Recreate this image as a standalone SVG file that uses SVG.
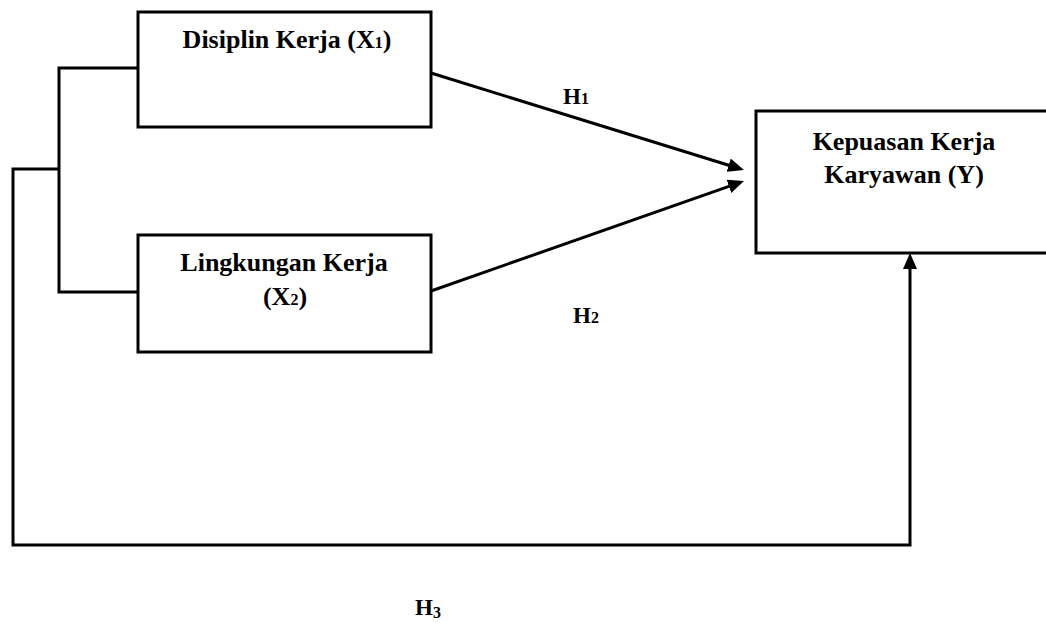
<svg xmlns="http://www.w3.org/2000/svg" width="1046" height="625" viewBox="0 0 1046 625">
<style>
.box{fill:#fff;stroke:#000;stroke-width:3}
.ln{fill:none;stroke:#000;stroke-width:3;stroke-linejoin:miter}
.t{font-family:"Liberation Serif","Times New Roman",serif;font-weight:bold;font-size:26px;fill:#000;text-anchor:middle}
.h{font-family:"Liberation Serif","Times New Roman",serif;font-weight:bold;font-size:23px;fill:#000}
.sub{font-size:16px}
</style>
<defs>
<marker id="ah" markerUnits="userSpaceOnUse" markerWidth="16" markerHeight="14" refX="6" refY="7" orient="auto">
<path d="M0,0 L16,7 L0,14 z" fill="#000"/>
</marker>
</defs>
<rect x="0" y="0" width="1046" height="625" fill="#fff"/>
<g id="connectors">
<path class="ln" d="M138,68 H59 V292 H138"/>
<path class="ln" d="M59,169 H13 V545 H910 V263" marker-end="url(#ah)"/>
<path class="ln" d="M431,73 L734.4,167" marker-end="url(#ah)"/>
<path class="ln" d="M431,291 L734.6,184.3" marker-end="url(#ah)"/>
</g>
<g id="node-x1">
<rect class="box" x="138" y="12" width="293" height="115"/>
<text class="t" x="287" y="48">Disiplin Kerja (X<tspan class="sub">1</tspan>)</text>
</g>
<g id="node-x2">
<rect class="box" x="138" y="235" width="293" height="117"/>
<text class="t" x="284" y="271">Lingkungan Kerja</text>
<text class="t" x="285" y="305">(X<tspan class="sub">2</tspan>)</text>
</g>
<g id="node-y">
<rect class="box" x="756" y="111" width="320" height="142"/>
<text class="t" x="904" y="150">Kepuasan Kerja</text>
<text class="t" x="904" y="183">Karyawan (Y)</text>
</g>
<g id="labels">
<text class="h" x="563" y="104">H<tspan class="sub">1</tspan></text>
<text class="h" x="573" y="323">H<tspan class="sub">2</tspan></text>
<text class="h" x="415" y="615">H<tspan class="sub" dy="3">3</tspan></text>
</g>
</svg>
